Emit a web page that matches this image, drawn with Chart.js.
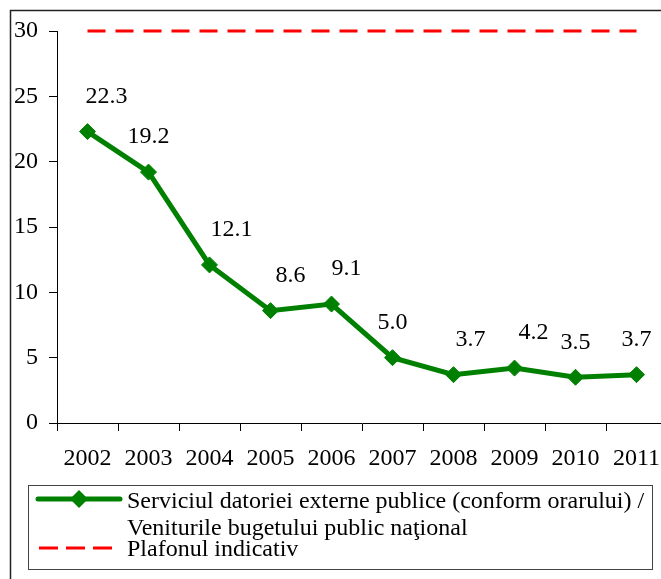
<!DOCTYPE html>
<html>
<head>
<meta charset="utf-8">
<script src="https://cdn.jsdelivr.net/npm/chart.js@4.4.1/dist/chart.umd.min.js"></script>
<style>
  html, body { margin: 0; padding: 0; background: #fff; overflow: hidden; }
  #wrap { width: 661px; height: 579px; overflow: hidden; }
  canvas { display: block; }
</style>
</head>
<body>
<div id="wrap">
  <canvas id="debtChart" width="680" height="579"></canvas>
</div>
<script>
// Ani
const years = ["2002", "2003", "2004", "2005", "2006", "2007", "2008", "2009", "2010", "2011"];
// Serviciul datoriei externe publice / Veniturile bugetului public national, %
const debtService = [22.3, 19.2, 12.1, 8.6, 9.1, 5.0, 3.7, 4.2, 3.5, 3.7];
// Plafonul indicativ, %
const ceiling = [30, 30, 30, 30, 30, 30, 30, 30, 30, 30];

const debtServiceName = [
  "Serviciul datoriei externe publice (conform orarului) /",
  "Veniturile bugetului public naţional",
];
const ceilingName = "Plafonul indicativ";

const serif = "'Liberation Serif', 'Times New Roman', serif";
const green = "#008000";
const red = "#ff0000";

// deplasare orizontala a etichetelor fata de punct
const labelShiftX = [19, 0, 22, 20, 15, 0, 17, 19, 0, 0];

// chenarul exterior (doar marginile stanga si sus se vad)
const framePlugin = {
  id: "frame",
  beforeDraw(chart) {
    const ctx = chart.ctx;
    ctx.save();
    ctx.strokeStyle = "#222";
    ctx.lineWidth = 1.5;
    ctx.strokeRect(10.5, 10.5, 760, 760);
    ctx.restore();
  },
};

// valorile deasupra punctelor
const valueLabels = {
  id: "valueLabels",
  afterDatasetsDraw(chart) {
    const ctx = chart.ctx;
    const meta = chart.getDatasetMeta(0);
    ctx.save();
    ctx.font = "24px " + serif;
    ctx.fillStyle = "#000";
    ctx.textAlign = "center";
    ctx.textBaseline = "middle";
    meta.data.forEach((pt, i) => {
      ctx.fillText(debtService[i].toFixed(1), pt.x + labelShiftX[i], pt.y - 35);
    });
    ctx.restore();
  },
};

// legenda desenata manual (textul pe doua randuri)
const boxLegend = {
  id: "boxLegend",
  afterDraw(chart) {
    const ctx = chart.ctx;
    ctx.save();
    ctx.strokeStyle = "#444";
    ctx.lineWidth = 1;
    ctx.strokeRect(28.5, 485.5, 624, 84);

    // seria verde
    ctx.strokeStyle = green;
    ctx.lineWidth = 5;
    ctx.lineCap = "round";
    ctx.beginPath();
    ctx.moveTo(38, 499);
    ctx.lineTo(120, 499);
    ctx.stroke();
    ctx.fillStyle = green;
    ctx.beginPath();
    ctx.moveTo(79, 490);
    ctx.lineTo(88, 499);
    ctx.lineTo(79, 508);
    ctx.lineTo(70, 499);
    ctx.closePath();
    ctx.fill();

    // plafonul
    ctx.strokeStyle = red;
    ctx.lineWidth = 3;
    ctx.lineCap = "butt";
    ctx.setLineDash([19, 8]);
    ctx.beginPath();
    ctx.moveTo(39, 548);
    ctx.lineTo(113, 548);
    ctx.stroke();
    ctx.setLineDash([]);

    ctx.fillStyle = "#000";
    ctx.font = "24px " + serif;
    ctx.textAlign = "left";
    ctx.textBaseline = "alphabetic";
    ctx.fillText(debtServiceName[0], 127, 508);
    ctx.fillText(debtServiceName[1], 127, 535);
    ctx.fillText(ceilingName, 127, 556);
    ctx.restore();
  },
};

new Chart(document.getElementById("debtChart"), {
  type: "line",
  data: {
    labels: years,
    datasets: [
      {
        label: debtServiceName.join(" "),
        data: debtService,
        borderColor: green,
        backgroundColor: green,
        borderWidth: 5,
        pointStyle: "rectRot",
        pointRadius: 8,
        pointBorderWidth: 1,
        pointBackgroundColor: green,
        pointBorderColor: green,
        tension: 0,
        clip: false,
      },
      {
        label: ceilingName,
        data: ceiling,
        borderColor: red,
        borderWidth: 3,
        borderDash: [18, 10],
        pointRadius: 0,
        tension: 0,
        clip: false,
      },
    ],
  },
  options: {
    responsive: false,
    animation: false,
    events: [],
    layout: {
      padding: { top: 31, right: 13, bottom: 106, left: 0 },
    },
    plugins: {
      legend: { display: false },
      tooltip: { enabled: false },
    },
    scales: {
      x: {
        offset: true,
        grid: {
          offset: true,
          drawOnChartArea: false,
          drawTicks: true,
          tickLength: 8,
          color: "#000",
        },
        border: { display: true, color: "#000", width: 1 },
        ticks: {
          color: "#000",
          font: { family: serif, size: 24 },
          padding: 13,
          maxRotation: 0,
          autoSkip: false,
        },
        afterFit(scale) {
          scale.height = 50;
        },
      },
      y: {
        min: 0,
        max: 30,
        grid: {
          drawOnChartArea: false,
          drawTicks: true,
          tickLength: 8,
          color: "#000",
        },
        border: { display: true, color: "#000", width: 1 },
        ticks: {
          stepSize: 5,
          color: "#000",
          font: { family: serif, size: 24 },
          padding: 11,
        },
        afterFit(scale) {
          scale.width = 57;
        },
      },
    },
  },
  plugins: [framePlugin, valueLabels, boxLegend],
});
</script>
</body>
</html>
